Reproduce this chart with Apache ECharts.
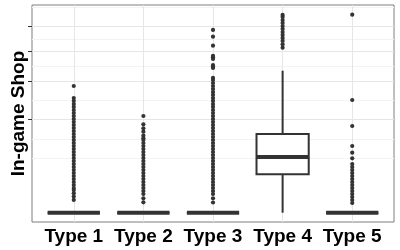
<!DOCTYPE html>
<html><head><meta charset="utf-8">
<script src="https://cdn.jsdelivr.net/npm/echarts@6/dist/echarts.min.js"></script>
<style>html,body{margin:0;padding:0;background:#fff}#c{width:400px;height:250px}</style>
</head><body><div id="c"></div>
<script>
const categories = ['Type 1', 'Type 2', 'Type 3', 'Type 4', 'Type 5'];
const boxMin    = [0, 0, 0, 0, 0];
const boxQ1     = [0, 0, 0, 17.05, 0];
const boxMedian = [0, 0, 0, 35.9, 0];
const boxQ3     = [0, 0, 0, 71.6, 0];
const boxMax    = [0, 0, 0, 233.1, 0];
const outliersType1 = [185.6, 152.1, 144.3, 136.6, 129.2, 121.9, 114.9, 108.1, 101.5, 95.12, 88.93, 82.95, 77.17, 71.61, 66.26, 61.11, 56.17, 51.44, 46.91, 42.6, 38.49, 34.6, 30.91, 27.42, 24.15, 21.08, 18.23, 15.57, 13.13, 10.9, 8.87, 7.05, 5.9, 4.4, 3.0, 1.9];
const outliersType2 = [108.1, 90.3, 82.4, 75.9, 68.6, 64.0, 61.11, 56.17, 51.44, 46.91, 42.6, 38.49, 34.6, 30.91, 27.42, 24.15, 21.08, 18.23, 15.57, 13.13, 10.9, 8.87, 7.05, 5.44, 4.04, 2.4, 1.25];
const outliersType3 = [386, 358, 322.5, 284, 279, 273, 252, 247, 242, 209.8, 203.6, 194.5, 185.6, 176.9, 168.4, 160.2, 152.1, 144.3, 136.6, 129.2, 121.9, 114.9, 108.1, 101.5, 95.12, 88.93, 82.95, 77.17, 71.61, 66.26, 61.11, 56.17, 51.44, 46.91, 42.6, 38.49, 34.6, 30.91, 27.42, 24.15, 21.08, 18.23, 15.57, 13.13, 10.9, 8.87, 7.05, 5.44, 4.04, 2.4, 1.2];
const outliersType4 = [451.9, 442.8, 429.3, 416.1, 403.0, 390.2, 377.5, 365.1, 352.9, 340.9, 327.9, 314.8];
const outliersType5 = [453.3, 146.8, 86.9, 51.4, 41.6, 34.2, 27.42, 24.15, 21.08, 18.23, 15.57, 13.13, 10.9, 8.87, 7.05, 5.44, 4.04, 2.85, 1.87, 1.09];
const yTickValues = [100, 200, 300, 400];
const yMinorBreaks = [34.3, 62.9, 145.7, 247.5, 348.2, 487.1];

const tr = v => Math.sqrt(v);
const outlierSets = [outliersType1, outliersType2, outliersType3, outliersType4, outliersType5];
const positions = categories.map((c, i) => i + 1);

const boxData = categories.map((c, i) => [positions[i], tr(boxMin[i]), tr(boxQ1[i]), tr(boxMedian[i]), tr(boxQ3[i]), tr(boxMax[i])]);
const outlierData = [];
outlierSets.forEach((arr, i) => arr.forEach(v => outlierData.push([positions[i], tr(v)])));

const FONT = "'Liberation Sans', Arial, sans-serif";
const ink = '#333333';

const gridLines = [];
yTickValues.forEach(v => gridLines.push({ yAxis: tr(v), lineStyle: { color: '#e6e6e6', width: 1, type: 'solid' } }));
yMinorBreaks.forEach(v => gridLines.push({ yAxis: tr(v), lineStyle: { color: '#f3f3f3', width: 1, type: 'solid' } }));
positions.forEach(p => gridLines.push({ xAxis: p, lineStyle: { color: '#e6e6e6', width: 1, type: 'solid' } }));

const chart = echarts.init(document.getElementById('c'), null, { renderer: 'canvas' });
chart.setOption({
  animation: false,
  backgroundColor: '#ffffff',
  grid: { left: 32, right: 6, top: 5, bottom: 28, show: true, borderColor: '#7f7f7f', borderWidth: 1, backgroundColor: 'transparent' },
  xAxis: {
    type: 'value', min: 0.4, max: 5.6,
    axisLine: { show: false },
    splitLine: { show: false },
    axisTick: { show: true, customValues: positions, length: 3, lineStyle: { color: ink, width: 1 } },
    axisLabel: { show: true, customValues: positions, margin: 5, formatter: v => categories[Math.round(v) - 1] || '',
      color: '#000', fontSize: 19, fontWeight: 'bold', fontFamily: FONT }
  },
  yAxis: {
    type: 'value', min: -1.0, max: 22.33,
    name: 'In-game Shop', nameLocation: 'middle', nameRotate: 90, nameGap: 4,
    nameTextStyle: { color: '#000', fontSize: 19, fontWeight: 'bold', fontFamily: FONT },
    axisLine: { show: false },
    splitLine: { show: false },
    axisTick: { show: true, customValues: yTickValues.map(tr), length: 4, lineStyle: { color: ink, width: 1 } },
    axisLabel: { show: false }
  },
  series: [
    {
      type: 'custom', z: 2,
      data: boxData,
      encode: { x: 0, y: [1, 2, 3, 4, 5] },
      renderItem: (params, api) => {
        const x = api.value(0);
        const lo = api.coord([x, api.value(1)]);
        const q1 = api.coord([x, api.value(2)]);
        const md = api.coord([x, api.value(3)]);
        const q3 = api.coord([x, api.value(4)]);
        const hi = api.coord([x, api.value(5)]);
        const w = api.size([0.75, 0])[0];
        const cx = md[0], l = cx - w / 2;
        return { type: 'group', children: [
          { type: 'line', shape: { x1: cx, y1: q3[1], x2: cx, y2: hi[1] }, style: { stroke: ink, lineWidth: 2 } },
          { type: 'line', shape: { x1: cx, y1: q1[1], x2: cx, y2: lo[1] }, style: { stroke: ink, lineWidth: 2 } },
          { type: 'rect', shape: { x: l, y: q3[1], width: w, height: q1[1] - q3[1] }, style: { fill: '#ffffff', stroke: ink, lineWidth: 2 } },
          { type: 'line', shape: { x1: l, y1: md[1], x2: l + w, y2: md[1] }, style: { stroke: ink, lineWidth: 4 } }
        ] };
      }
    },
    {
      type: 'scatter', z: 3,
      data: outlierData,
      symbol: 'circle', symbolSize: 4.2,
      itemStyle: { color: ink, opacity: 1 },
      silent: true,
      markLine: { z: 1, silent: true, symbol: 'none', label: { show: false }, data: gridLines }
    }
  ]
});
</script></body></html>
